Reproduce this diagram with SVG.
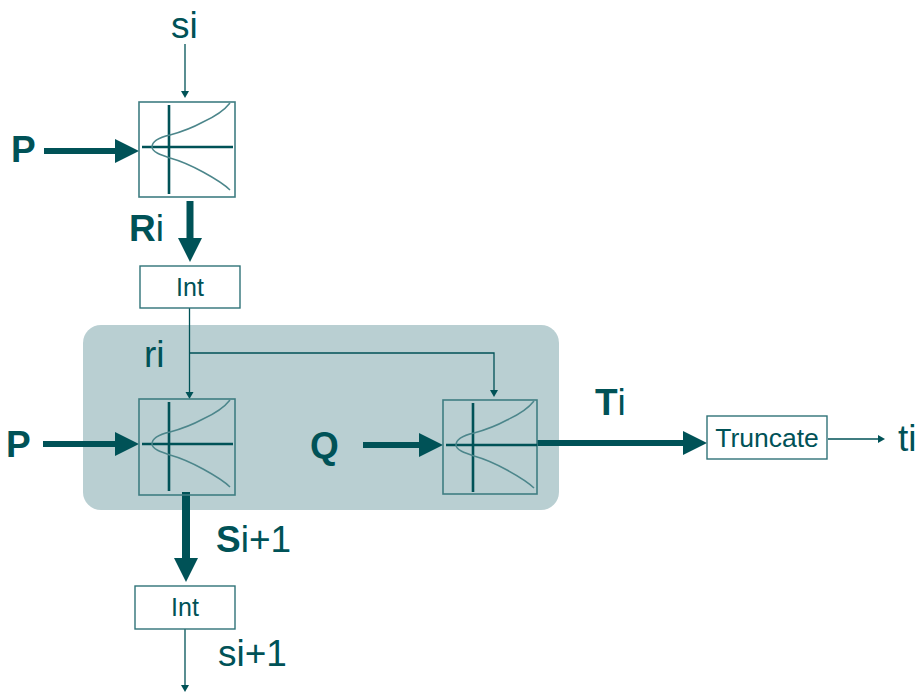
<svg xmlns="http://www.w3.org/2000/svg" width="917" height="694" viewBox="0 0 917 694">
<style>
text{font-family:"Liberation Sans",Arial,sans-serif;fill:#005257}
.big{font-size:37px}
.b{font-weight:bold}
.sm{font-size:24px}
.box{fill:none;stroke:#3f7d82;stroke-width:1.6}
.wh{fill:#fff;stroke:#2f7378;stroke-width:1.4}
.ax{stroke:#005257;stroke-width:2.6;fill:none}
.cv{stroke:#4c868b;stroke-width:1.5;fill:none}
.th{stroke:#005257;stroke-width:6;fill:none}
.tn{stroke:#005257;stroke-width:1.3;fill:none}
</style>
<defs>
<g id="fn">
<path class="ax" d="M30 3V92M3 45H94"/>
<path class="cv" d="M91 1C84 10 75 15 64 20C53 26 42 30 31 33C22 35 13 39 13 45C13 50 22 53 31 56C42 59 53 64 64 70C75 76 84 81 91 88"/>
</g>
<marker id="mt" markerUnits="userSpaceOnUse" markerWidth="26" markerHeight="28" refX="12" refY="12" orient="auto"><path d="M0 0L24 12L0 24Z" fill="#005257"/></marker>
<marker id="ms" markerUnits="userSpaceOnUse" markerWidth="10" markerHeight="10" refX="3" refY="4" orient="auto"><path d="M0 0L7 4L0 8Z" fill="#005257"/></marker>
</defs>
<rect id="panel" x="83" y="325" width="476" height="185" rx="18" fill="#b9cfd2"/>
<g id="connectors">
<path class="tn" marker-end="url(#ms)" d="M185 44V94"/>
<path class="th" marker-end="url(#mt)" d="M44 151H127"/>
<path class="th" style="stroke-width:7" marker-end="url(#mt)" d="M190 201V250"/>
<path class="tn" marker-end="url(#ms)" d="M189.500 308V395"/>
<path class="tn" marker-end="url(#ms)" d="M190 353H494V393"/>
<path class="th" marker-end="url(#mt)" d="M43 444H127"/>
<path class="th" marker-end="url(#mt)" d="M363 445H431"/>
<path class="th" marker-end="url(#mt)" d="M537 443H695"/>
<path class="th" style="stroke-width:8" marker-end="url(#mt)" d="M186 492V570"/>
<path class="tn" marker-end="url(#ms)" d="M828 439H881"/>
<path class="tn" marker-end="url(#ms)" d="M185 629V688"/>
</g>
<g id="node-top"><rect class="box" x="139" y="102" width="96" height="95"/><use href="#fn" x="139" y="102"/></g>
<g id="node-left"><rect class="box" x="139" y="399" width="96" height="96"/><use href="#fn" x="139" y="399"/></g>
<g id="node-right"><rect class="box" x="443" y="400" width="94" height="94"/><use href="#fn" x="443" y="400"/></g>
<g id="node-int1"><rect class="wh" x="140" y="266" width="100" height="42"/><text class="sm" x="190" y="296" text-anchor="middle" font-size="25" style="font-size:25px">Int</text></g>
<g id="node-int2"><rect class="wh" x="135" y="586" width="100" height="43"/><text class="sm" x="185" y="616" text-anchor="middle" style="font-size:25px">Int</text></g>
<g id="node-truncate"><rect class="wh" x="707" y="416" width="120" height="43"/><text class="sm" x="767" y="447" text-anchor="middle" style="font-size:26.500px">Truncate</text></g>
<g id="labels">
<text class="big" x="171" y="38">si</text>
<text class="big b" x="11" y="162">P</text>
<text class="big" x="129" y="241"><tspan class="b">R</tspan>i</text>
<text class="big" x="144" y="367">ri</text>
<text class="big b" x="6" y="457">P</text>
<text class="big b" x="310" y="458">Q</text>
<text class="big" x="595" y="415"><tspan class="b">T</tspan>i</text>
<text class="big" x="898" y="451">ti</text>
<text class="big" x="216" y="552"><tspan class="b">S</tspan>i+1</text>
<text class="big" x="218" y="666">si+1</text>
</g>
</svg>
